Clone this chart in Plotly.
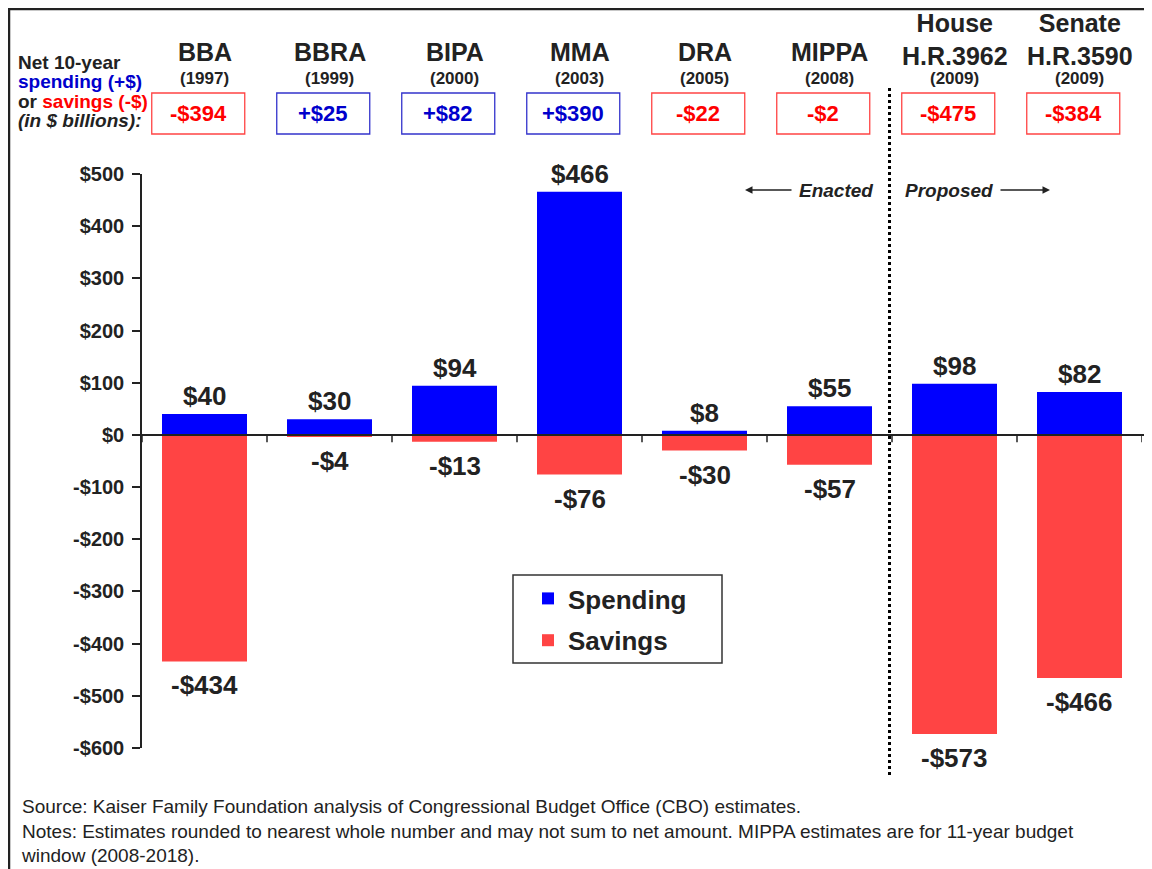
import plotly.graph_objects as go

# ---------------- data ----------------
bill_top = ["", "", "", "", "", "", "House", "Senate"]
bill_names = ["BBA", "BBRA", "BIPA", "MMA", "DRA", "MIPPA", "H.R.3962", "H.R.3590"]
bill_years = ["(1997)", "(1999)", "(2000)", "(2003)", "(2005)", "(2008)", "(2009)", "(2009)"]
net_totals = [-394, 25, 82, 390, -22, -2, -475, -384]
spending = [40, 30, 94, 466, 8, 55, 98, 82]
savings = [-434, -4, -13, -76, -30, -57, -573, -466]
y_ticks = [-600, -500, -400, -300, -200, -100, 0, 100, 200, 300, 400, 500]

# ---------------- geometry helpers (page pixel targets) ----------------
OFF = 8                      # browser body margin
W, H = 1152 - OFF, 869 - OFF
L, R, T, B = 142, 1142, 174, 748   # plot area in page pixels


def px_x(p):
    return (p - L) / (R - L)


def px_y(p):
    return (B - p) / (B - T)


def dx(p):  # page pixel -> x data coordinate (categories at 0..7)
    return (p - L) / 125.0 - 0.5


FONT = "Liberation Sans, Arial, Helvetica, sans-serif"
DARK = "#222222"
BLUE = "#0000FF"
RED = "#FF4444"

idx = list(range(len(bill_names)))

fig = go.Figure()
fig.add_trace(go.Bar(x=idx, y=spending, name="<b>Spending</b>", marker_color=BLUE,
                     marker_line_width=0, width=0.68, legendgroup="a"))
fig.add_trace(go.Bar(x=idx, y=savings, name="<b>Savings</b>", marker_color=RED,
                     marker_line_width=0, width=0.68, legendgroup="b"))

ann = []
shapes = []


def fmt(v, plus=False):
    s = "-" if v < 0 else ("+" if plus else "")
    return f"{s}${abs(v)}"


# bar value labels
for i in idx:
    ann.append(dict(x=i, y=spending[i], xref="x", yref="y", text=f"<b>{fmt(spending[i])}</b>",
                    showarrow=False, yanchor="bottom", yshift=1,
                    font=dict(family=FONT, size=26, color=DARK)))
    ann.append(dict(x=i, y=savings[i], xref="x", yref="y", text=f"<b>{fmt(savings[i])}</b>",
                    showarrow=False, yanchor="top", yshift=-7,
                    font=dict(family=FONT, size=26, color=DARK)))

# header: bill names, years, net boxes
for i in idx:
    if bill_top[i]:
        ann.append(dict(x=i, y=px_y(40), xref="x", yref="paper",
                        text=f"<b>{bill_top[i]}<br>{bill_names[i]}</b>",
                        showarrow=False, yanchor="middle", borderpad=0,
                        font=dict(family=FONT, size=25, color=DARK)))
    else:
        ann.append(dict(x=i, y=px_y(52), xref="x", yref="paper", text=f"<b>{bill_names[i]}</b>",
                        showarrow=False, yanchor="middle", borderpad=0,
                        font=dict(family=FONT, size=25, color=DARK)))
    ann.append(dict(x=i, y=px_y(78), xref="x", yref="paper", text=f"<b>{bill_years[i]}</b>",
                    showarrow=False, yanchor="middle", borderpad=0,
                    font=dict(family=FONT, size=17, color=DARK)))
    col_txt = "#FF0000" if net_totals[i] < 0 else "#0000CC"
    col_box = "#FF4444" if net_totals[i] < 0 else "#3333CC"
    cx = i - 0.05
    shapes.append(dict(type="rect", xref="x", yref="paper", x0=cx - 0.372, x1=cx + 0.372,
                       y0=px_y(134), y1=px_y(93), line=dict(color=col_box, width=1.3),
                       fillcolor="white"))
    ann.append(dict(x=cx, y=px_y(114), xref="x", yref="paper",
                    text=f"<b>{fmt(net_totals[i], plus=True)}</b>",
                    showarrow=False, yanchor="middle",
                    font=dict(family=FONT, size=22, color=col_txt)))

# left header text
left_lines = [
    "<b>Net 10-year</b>",
    "<b><span style='color:#0000CC'>spending (+$)</span></b>",
    "<b>or <span style='color:#FF0000'>savings (-$)</span></b>",
    "<b><i>(in $ billions):</i></b>",
]
for t, yy in zip(left_lines, [63, 82, 101, 121]):
    ann.append(dict(x=px_x(17), y=px_y(yy), xref="paper", yref="paper", text=t,
                    showarrow=False, xanchor="left", yanchor="middle", borderpad=0,
                    font=dict(family=FONT, size=19, color=DARK)))

# Enacted / Proposed
ann.append(dict(x=dx(745), y=px_y(190), xref="x", yref="paper", text="<b><i>Enacted</i></b>",
                showarrow=True, ax=836 - 745, ay=0, arrowhead=2, arrowsize=1, arrowwidth=1.5,
                arrowcolor=DARK, standoff=0, startstandoff=6,
                font=dict(family=FONT, size=19, color=DARK)))
ann.append(dict(x=dx(1050), y=px_y(190), xref="x", yref="paper", text="<b><i>Proposed</i></b>",
                showarrow=True, ax=949 - 1050, ay=0, arrowhead=2, arrowsize=1, arrowwidth=1.5,
                arrowcolor=DARK, standoff=0, startstandoff=6,
                font=dict(family=FONT, size=19, color=DARK)))

# footer
ann.append(dict(x=px_x(19), y=px_y(794), xref="paper", yref="paper",
                text="Source: Kaiser Family Foundation analysis of Congressional Budget Office (CBO) estimates."
                     "<br>Notes: Estimates rounded to nearest whole number and may not sum to net amount. "
                     "MIPPA estimates are for 11-year budget<br>window (2008-2018).",
                showarrow=False, xanchor="left", yanchor="top", align="left",
                font=dict(family=FONT, size=19, color=DARK)))

# legend frame
shapes.append(dict(type="rect", xref="paper", yref="paper", x0=px_x(513), x1=px_x(722),
                   y0=px_y(663), y1=px_y(575), line=dict(color="#333333", width=1.5),
                   fillcolor="white", layer="below"))

# dotted divider
shapes.append(dict(type="line", xref="x", yref="paper", x0=5.48, x1=5.48,
                   y0=px_y(775), y1=px_y(88), line=dict(color="black", width=3, dash="dot")))
# zero line
shapes.append(dict(type="line", xref="paper", yref="y", x0=0, x1=px_x(1150), y0=0, y1=0,
                   line=dict(color=DARK, width=2)))
# category boundary ticks on the zero line
for i in range(len(bill_names) + 1):
    shapes.append(dict(type="line", xref="x", yref="y", x0=i - 0.5, x1=i - 0.5, y0=0, y1=-14,
                       line=dict(color=DARK, width=1.5)))
# outer frame
shapes.append(dict(type="rect", xref="paper", yref="paper", x0=px_x(9), x1=px_x(1175),
                   y0=px_y(900), y1=px_y(9), line=dict(color=DARK, width=2.5)))

fig.update_layout(
    width=W, height=H,
    barmode="relative",
    plot_bgcolor="rgba(0,0,0,0)", paper_bgcolor="white",
    margin=dict(l=L - OFF, r=(W + OFF) - R, t=T - OFF, b=(H + OFF) - B),
    showlegend=True,
    legend=dict(x=px_x(528), y=px_y(575), xanchor="left", yanchor="top",
                borderwidth=0, bgcolor="rgba(0,0,0,0)",
                font=dict(family=FONT, size=26, color=DARK),
                itemwidth=30, traceorder="grouped", tracegroupgap=5),
    annotations=ann, shapes=shapes,
    xaxis=dict(range=[-0.5, 7.5], showticklabels=False, showline=False, showgrid=False,
               zeroline=False, ticks=""),
    yaxis=dict(range=[-600, 500], tickvals=y_ticks,
               ticktext=[f"<b>{fmt(v)}</b>" for v in y_ticks],
               showline=True, linecolor=DARK, linewidth=1.5, ticks="outside", ticklen=8,
               tickcolor=DARK, tickwidth=1.5, showgrid=False, zeroline=False,
               ticklabelstandoff=4,
               tickfont=dict(family=FONT, size=20, color=DARK)),
)

fig.write_html("out.html")
